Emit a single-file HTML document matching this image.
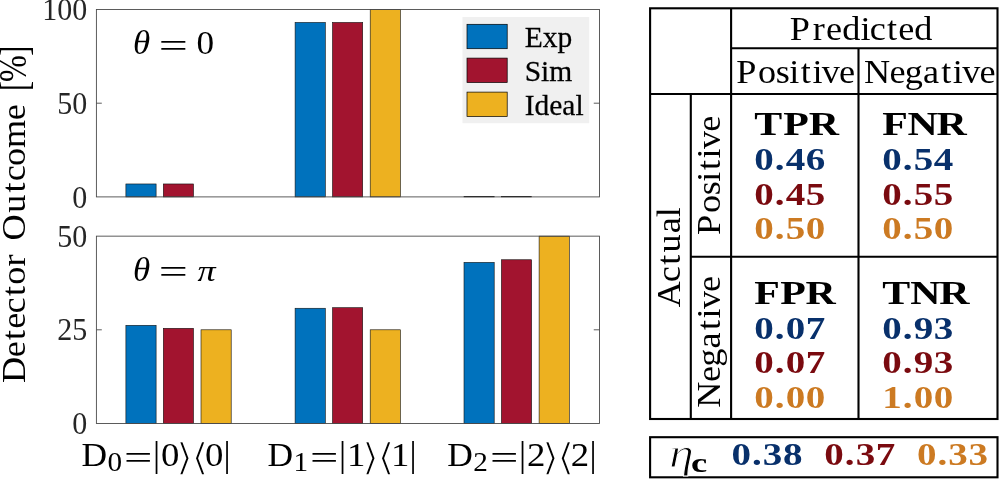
<!DOCTYPE html>
<html lang="en"><head><meta charset="utf-8"><title>Detector outcome and confusion matrix</title>
<style>html,body{margin:0;padding:0;background:#fff;overflow:hidden}svg{display:block}text{font-family:"Liberation Serif", "DejaVu Serif", serif;white-space:pre}</style>
</head><body>
<svg width="1000" height="479" viewBox="0 0 1000 479">
<rect width="1000" height="479" fill="#fff"/>
<g id="plot-top">
<rect x="125.90" y="183.97" width="30.20" height="12.93" fill="#0072BD" stroke="#111" stroke-width="0.6"/>
<rect x="163.30" y="183.97" width="30.20" height="12.93" fill="#A2142F" stroke="#111" stroke-width="0.6"/>
<rect x="295.10" y="22.43" width="30.20" height="174.47" fill="#0072BD" stroke="#111" stroke-width="0.6"/>
<rect x="332.50" y="22.43" width="30.20" height="174.47" fill="#A2142F" stroke="#111" stroke-width="0.6"/>
<rect x="370.20" y="9.50" width="30.20" height="187.40" fill="#EDB120" stroke="#111" stroke-width="0.6"/>
<rect x="464.00" y="196.43" width="30.20" height="0.47" fill="#0072BD" stroke="#111" stroke-width="0.6"/>
<rect x="501.40" y="196.43" width="30.20" height="0.47" fill="#A2142F" stroke="#111" stroke-width="0.6"/>
<rect x="96.4" y="9.5" width="503.15" height="187.40" fill="none" stroke="#4a4a4a" stroke-width="0.9"/>
<path d="M96.4 103.20h5.4M599.55 103.20h-5.8" stroke="#4a4a4a" stroke-width="0.9" fill="none"/>
</g>
<g id="plot-bottom">
<rect x="125.90" y="325.30" width="30.20" height="98.15" fill="#0072BD" stroke="#111" stroke-width="0.6"/>
<rect x="163.30" y="328.30" width="30.20" height="95.15" fill="#A2142F" stroke="#111" stroke-width="0.6"/>
<rect x="201.00" y="329.80" width="30.20" height="93.65" fill="#EDB120" stroke="#111" stroke-width="0.6"/>
<rect x="295.10" y="308.26" width="30.20" height="115.19" fill="#0072BD" stroke="#111" stroke-width="0.6"/>
<rect x="332.50" y="307.70" width="30.20" height="115.75" fill="#A2142F" stroke="#111" stroke-width="0.6"/>
<rect x="370.20" y="329.80" width="30.20" height="93.65" fill="#EDB120" stroke="#111" stroke-width="0.6"/>
<rect x="464.00" y="262.37" width="30.20" height="161.08" fill="#0072BD" stroke="#111" stroke-width="0.6"/>
<rect x="501.40" y="259.75" width="30.20" height="163.70" fill="#A2142F" stroke="#111" stroke-width="0.6"/>
<rect x="539.10" y="236.15" width="30.20" height="187.30" fill="#EDB120" stroke="#111" stroke-width="0.6"/>
<rect x="96.4" y="236.15" width="503.15" height="187.30" fill="none" stroke="#4a4a4a" stroke-width="0.9"/>
<path d="M96.4 329.80h5.4M599.55 329.80h-5.8" stroke="#4a4a4a" stroke-width="0.9" fill="none"/>
</g>
<g id="ticks">
<text transform="translate(87.2 20.0) scale(1 1.075)" font-size="30" fill="#262626" text-anchor="end">100</text>
<text transform="translate(87.2 114.0) scale(1 1.075)" font-size="30" fill="#262626" text-anchor="end">50</text>
<text transform="translate(87.2 208.2) scale(1 1.075)" font-size="30" fill="#262626" text-anchor="end">0</text>
<text transform="translate(87.2 247.2) scale(1 1.075)" font-size="30" fill="#262626" text-anchor="end">50</text>
<text transform="translate(87.2 340.2) scale(1 1.075)" font-size="30" fill="#262626" text-anchor="end">25</text>
<text transform="translate(87.2 434.4) scale(1 1.075)" font-size="30" fill="#262626" text-anchor="end">0</text>
</g>
<g id="annot">
<text><tspan x="132.9" y="54.1" font-size="33.7" textLength="17.2" lengthAdjust="spacingAndGlyphs" font-style="italic">θ</tspan><tspan x="158.8" y="57.2" font-size="33.7" textLength="29.1" lengthAdjust="spacingAndGlyphs">=</tspan><tspan x="196.6" y="54.3" font-size="33.7" textLength="17.6" lengthAdjust="spacingAndGlyphs">0</tspan></text>
<text><tspan x="132.9" y="280.8" font-size="33.7" textLength="17.2" lengthAdjust="spacingAndGlyphs" font-style="italic">θ</tspan><tspan x="158.8" y="283.2" font-size="33.7" textLength="29.1" lengthAdjust="spacingAndGlyphs">=</tspan><tspan x="197.6" y="280.6" font-size="30" textLength="18.1" lengthAdjust="spacingAndGlyphs" font-style="italic">π</tspan></text>
</g>
<g id="legend">
<rect x="462.5" y="17" width="126.7" height="106.2" fill="#f0f0f0"/>
<rect x="467.0" y="24.3" width="40.2" height="24.4" fill="#0072BD" stroke="#000" stroke-width="0.7"/>
<rect x="467.0" y="58.1" width="40.2" height="24.4" fill="#A2142F" stroke="#000" stroke-width="0.7"/>
<rect x="467.0" y="92.1" width="40.2" height="24.4" fill="#EDB120" stroke="#000" stroke-width="0.7"/>
<text transform="translate(524.7 47.1) scale(1 1.03)" font-size="29.5" stroke="#000" stroke-width="0.25">Exp</text>
<text transform="translate(524.7 81.0) scale(1 1.03)" font-size="29.5" stroke="#000" stroke-width="0.25">Sim</text>
<text transform="translate(524.7 114.6) scale(1 1.03)" font-size="29.5" stroke="#000" stroke-width="0.25">Ideal</text>
</g>
<g id="ylabel">
<text transform="translate(25 382.0) rotate(-90) scale(1.08 1)" x="-0.97 22.95 38.97 49.42 63.54 79.56 89.97 106.92" y="0" font-size="33.5">Detector</text>
<text transform="translate(25 239.0) rotate(-90) scale(1.08 1)" x="-1.37 24.29 43.05 53.54 67.63 84.21 110.00" y="0" font-size="33.5">Outcome</text>
<text transform="rotate(-90)"><tspan x="-91.1" y="27.6" font-size="40" textLength="10.1" lengthAdjust="spacingAndGlyphs">[</tspan><tspan x="-81.9" y="26.4" font-size="40" textLength="26.9" lengthAdjust="spacingAndGlyphs">%</tspan><tspan x="-55.8" y="27.6" font-size="40" textLength="10.1" lengthAdjust="spacingAndGlyphs">]</tspan></text>
</g>
<g id="xlabels">
<text><tspan x="81.4" y="466.2" font-size="33.5" textLength="25.6" lengthAdjust="spacingAndGlyphs">D</tspan><tspan x="107.4" y="470.7" font-size="27" textLength="14.6" lengthAdjust="spacingAndGlyphs">0</tspan><tspan x="124.0" y="469.1" font-size="33.5" textLength="28.4" lengthAdjust="spacingAndGlyphs">=</tspan><tspan x="153.1" y="466.2" font-size="35.4">|</tspan><tspan x="161.0" y="466.2" font-size="33.5" textLength="18.4" lengthAdjust="spacingAndGlyphs">0</tspan><tspan x="175.5" y="469.6" font-size="37.5" textLength="18.0" lengthAdjust="spacingAndGlyphs" font-family='"DejaVu Sans", sans-serif' stroke="#fff" stroke-width="1.3">⟩</tspan><tspan x="190.9" y="469.6" font-size="37.5" textLength="18.0" lengthAdjust="spacingAndGlyphs" font-family='"DejaVu Sans", sans-serif' stroke="#fff" stroke-width="1.3">⟨</tspan><tspan x="204.9" y="466.2" font-size="33.5" textLength="18.4" lengthAdjust="spacingAndGlyphs">0</tspan><tspan x="223.5" y="466.2" font-size="35.4">|</tspan></text>
<text><tspan x="267.4" y="466.2" font-size="33.5" textLength="25.6" lengthAdjust="spacingAndGlyphs">D</tspan><tspan x="293.4" y="470.7" font-size="27" textLength="14.6" lengthAdjust="spacingAndGlyphs">1</tspan><tspan x="310.0" y="469.1" font-size="33.5" textLength="28.4" lengthAdjust="spacingAndGlyphs">=</tspan><tspan x="339.1" y="466.2" font-size="35.4">|</tspan><tspan x="347.0" y="466.2" font-size="33.5" textLength="18.4" lengthAdjust="spacingAndGlyphs">1</tspan><tspan x="361.5" y="469.6" font-size="37.5" textLength="18.0" lengthAdjust="spacingAndGlyphs" font-family='"DejaVu Sans", sans-serif' stroke="#fff" stroke-width="1.3">⟩</tspan><tspan x="376.9" y="469.6" font-size="37.5" textLength="18.0" lengthAdjust="spacingAndGlyphs" font-family='"DejaVu Sans", sans-serif' stroke="#fff" stroke-width="1.3">⟨</tspan><tspan x="390.9" y="466.2" font-size="33.5" textLength="18.4" lengthAdjust="spacingAndGlyphs">1</tspan><tspan x="409.5" y="466.2" font-size="35.4">|</tspan></text>
<text><tspan x="447.3" y="466.2" font-size="33.5" textLength="25.6" lengthAdjust="spacingAndGlyphs">D</tspan><tspan x="473.3" y="470.7" font-size="27" textLength="14.6" lengthAdjust="spacingAndGlyphs">2</tspan><tspan x="489.9" y="469.1" font-size="33.5" textLength="28.4" lengthAdjust="spacingAndGlyphs">=</tspan><tspan x="519.0" y="466.2" font-size="35.4">|</tspan><tspan x="526.9" y="466.2" font-size="33.5" textLength="18.4" lengthAdjust="spacingAndGlyphs">2</tspan><tspan x="541.4" y="469.6" font-size="37.5" textLength="18.0" lengthAdjust="spacingAndGlyphs" font-family='"DejaVu Sans", sans-serif' stroke="#fff" stroke-width="1.3">⟩</tspan><tspan x="556.8" y="469.6" font-size="37.5" textLength="18.0" lengthAdjust="spacingAndGlyphs" font-family='"DejaVu Sans", sans-serif' stroke="#fff" stroke-width="1.3">⟨</tspan><tspan x="570.8" y="466.2" font-size="33.5" textLength="18.4" lengthAdjust="spacingAndGlyphs">2</tspan><tspan x="589.4" y="466.2" font-size="35.4">|</tspan></text>
</g>
<g id="table" stroke="#000" stroke-width="2.1" fill="none">
<rect x="650.1" y="8.3" width="347.4" height="410.7"/>
<path d="M731.1 8.3V419M690.8 94V419M858.5 48.2V419M731.1 48.2H997.5M650.1 94H997.5M690.8 256.7H997.5"/>
<rect x="650.1" y="437.2" width="347.4" height="40.1"/>
</g>
<g id="table-text">
<text transform="translate(790.8 40.0) scale(1.08 1)" x="-0.97 20.40 32.66 47.57 64.51 73.17 89.17 99.60 114.40" y="0" font-size="33.5">Predicted</text>
<text transform="translate(737.2 83.2) scale(1.08 1)" x="-0.97 19.34 35.69 48.31 58.97 69.63 78.34 94.26" y="0" font-size="33.5">Positive</text>
<text transform="translate(865.0 83.2) scale(1.08 1)" x="-0.97 22.66 36.80 53.71 70.69 81.33 90.03 105.92" y="0" font-size="33.5">Negative</text>
<text transform="translate(679.6 306.8) rotate(-90) scale(1.08 1)" x="-0.33 22.77 38.91 50.32 68.18 82.94" y="0" font-size="33.5">Actual</text>
<text transform="translate(719.6 234.0) rotate(-90) scale(1.08 1)" x="-0.97 19.38 35.84 48.49 59.18 69.88 78.64 94.63" y="0" font-size="33.5">Positive</text>
<text transform="translate(719.6 406.6) rotate(-90) scale(1.08 1)" x="-0.97 22.73 36.91 53.85 70.86 81.53 90.26 106.20" y="0" font-size="33.5">Negative</text>
<text transform="translate(755.0 134.8) scale(1.27 1)" x="-0.52 22.24 42.26" y="0" font-size="33" font-weight="bold">TPR</text>
<text transform="translate(755.0 169.85) scale(1.22 1)" x="-0.59 16.27 25.14 41.68" y="0" font-size="32" font-weight="bold" fill="#08306B">0.46</text>
<text transform="translate(755.0 204.6) scale(1.22 1)" x="-0.59 16.27 25.14 41.68" y="0" font-size="32" font-weight="bold" fill="#7A0A0F">0.45</text>
<text transform="translate(755.0 239.35) scale(1.22 1)" x="-0.59 16.27 25.14 41.68" y="0" font-size="32" font-weight="bold" fill="#CC7A22">0.50</text>
<text transform="translate(883.0 134.8) scale(1.27 1)" x="-0.56 19.34 42.18" y="0" font-size="33" font-weight="bold">FNR</text>
<text transform="translate(883.0 169.85) scale(1.22 1)" x="-0.59 16.27 25.14 41.68" y="0" font-size="32" font-weight="bold" fill="#08306B">0.54</text>
<text transform="translate(883.0 204.6) scale(1.22 1)" x="-0.59 16.27 25.14 41.68" y="0" font-size="32" font-weight="bold" fill="#7A0A0F">0.55</text>
<text transform="translate(883.0 239.35) scale(1.22 1)" x="-0.59 16.27 25.14 41.68" y="0" font-size="32" font-weight="bold" fill="#CC7A22">0.50</text>
<text transform="translate(755.0 303.5) scale(1.27 1)" x="-0.56 19.97 39.82" y="0" font-size="33" font-weight="bold">FPR</text>
<text transform="translate(755.0 338.55) scale(1.22 1)" x="-0.59 16.27 25.14 41.68" y="0" font-size="32" font-weight="bold" fill="#08306B">0.07</text>
<text transform="translate(755.0 373.3) scale(1.22 1)" x="-0.59 16.27 25.14 41.68" y="0" font-size="32" font-weight="bold" fill="#7A0A0F">0.07</text>
<text transform="translate(755.0 408.05) scale(1.22 1)" x="-0.59 16.27 25.14 41.68" y="0" font-size="32" font-weight="bold" fill="#CC7A22">0.00</text>
<text transform="translate(883.0 303.5) scale(1.27 1)" x="-0.52 21.44 44.30" y="0" font-size="33" font-weight="bold">TNR</text>
<text transform="translate(883.0 338.55) scale(1.22 1)" x="-0.59 16.27 25.14 41.68" y="0" font-size="32" font-weight="bold" fill="#08306B">0.93</text>
<text transform="translate(883.0 373.3) scale(1.22 1)" x="-0.59 16.27 25.14 41.68" y="0" font-size="32" font-weight="bold" fill="#7A0A0F">0.93</text>
<text transform="translate(883.0 408.05) scale(1.22 1)" x="-0.59 16.27 25.14 41.68" y="0" font-size="32" font-weight="bold" fill="#CC7A22">1.00</text>
<text><tspan x="669.3" y="466.7" font-size="40.4" textLength="24.4" lengthAdjust="spacingAndGlyphs" font-style="italic" stroke="#fff" stroke-width="0.9">η</tspan><tspan x="690.9" y="471.9" font-size="27.5" textLength="16.2" lengthAdjust="spacingAndGlyphs" font-weight="bold">c</tspan></text>
<text transform="translate(732.2 465.2) scale(1.22 1)" x="-0.59 16.27 25.14 41.68" y="0" font-size="32" font-weight="bold" fill="#08306B">0.38</text>
<text transform="translate(825.0 465.2) scale(1.22 1)" x="-0.59 16.27 25.14 41.68" y="0" font-size="32" font-weight="bold" fill="#7A0A0F">0.37</text>
<text transform="translate(917.7 465.2) scale(1.22 1)" x="-0.59 16.27 25.14 41.68" y="0" font-size="32" font-weight="bold" fill="#CC7A22">0.33</text>
</g>
</svg>
</body></html>
